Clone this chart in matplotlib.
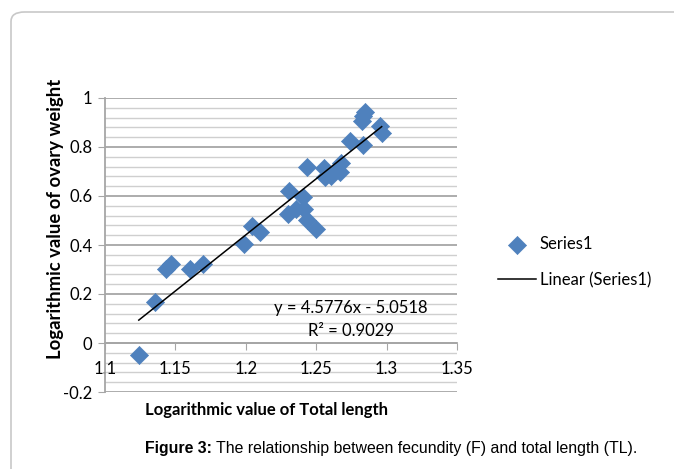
import matplotlib
matplotlib.use("Agg")
import matplotlib.pyplot as plt
from matplotlib.patches import FancyBboxPatch
from matplotlib.ticker import FixedLocator, FixedFormatter
import numpy as np

# data
log_tl = [1.124, 1.1358, 1.1434, 1.1466, 1.1607, 1.1694, 1.1986, 1.2045, 1.2104,
          1.2306, 1.2301, 1.2353, 1.2412, 1.2405, 1.2436, 1.2502, 1.2436, 1.2555,
          1.256, 1.2602, 1.2637, 1.2666, 1.2673, 1.2739, 1.2834, 1.2827, 1.285,
          1.2835, 1.2953, 1.2965]
log_ow = [-0.047, 0.166, 0.301, 0.324, 0.301, 0.324, 0.403, 0.476, 0.453,
          0.622, 0.527, 0.547, 0.547, 0.595, 0.500, 0.466, 0.719, 0.716,
          0.676, 0.682, 0.703, 0.696, 0.736, 0.824, 0.808, 0.908, 0.943,
          0.926, 0.885, 0.858]
slope, intercept = 4.5776, -5.0518
r2 = 0.9029
x_ticks = [1.1, 1.15, 1.2, 1.25, 1.3, 1.35]
x_ticklabels = ["1.1", "1.15", "1.2", "1.25", "1.3", "1.35"]
y_ticks = [-0.2, 0, 0.2, 0.4, 0.6, 0.8, 1.0]
y_ticklabels = ["-0.2", "0", "0.2", "0.4", "0.6", "0.8", "1"]

W, H = 674, 469
fig = plt.figure(figsize=(W/100, H/100), dpi=100)
fig.patch.set_facecolor("white")

# outer rounded frame
frame = FancyBboxPatch((11/W, -0.2), 1.2, (H-12)/H + 0.2,
                       boxstyle="round,pad=0,rounding_size=0.02",
                       transform=fig.transFigure, fill=False,
                       edgecolor="#c8c8c8", linewidth=1.2, clip_on=False)
fig.patches.append(frame)

ax = fig.add_axes([105/W, (H-392)/H, 352/W, (392-98)/H])
ax.set_xlim(1.1, 1.35)
ax.set_ylim(-0.2, 1.0)

# grid
for v in np.arange(-0.2, 1.0001, 0.04):
    major = abs(round(v / 0.2) * 0.2 - v) < 1e-6
    ax.axhline(v, color="#a6a6a6" if major else "#cfcfcf",
               lw=1.3 if major else 1.0, zorder=0)

for s in ["top", "right"]:
    ax.spines[s].set_visible(False)
ax.spines["bottom"].set_position(("data", 0))
ax.spines["bottom"].set_color("#a6a6a6")
ax.spines["left"].set_color("#a6a6a6")
ax.spines["bottom"].set_linewidth(1.3)
ax.spines["left"].set_linewidth(1.3)

ax.xaxis.set_major_locator(FixedLocator(x_ticks))
ax.xaxis.set_major_formatter(FixedFormatter(x_ticklabels))
ax.yaxis.set_major_locator(FixedLocator(y_ticks))
ax.yaxis.set_major_formatter(FixedFormatter(y_ticklabels))
ax.tick_params(axis="x", direction="out", length=5, color="#a6a6a6", pad=8,
               labelsize=12, labelcolor="black")
ax.tick_params(axis="y", direction="out", length=5, color="#a6a6a6", pad=4,
               labelsize=12, labelcolor="black")
for lab in ax.get_xticklabels() + ax.get_yticklabels():
    lab.set_fontfamily("Lato")

sc = ax.scatter(log_tl, log_ow, marker="D", s=85, color="#4f81bd",
                edgecolors="#4f81bd", linewidths=0.5, zorder=3, label="Series1")
xl = np.array([min(log_tl), max(log_tl)])
ln, = ax.plot(xl, slope * xl + intercept, color="black", lw=1.1, zorder=4,
              label="Linear (Series1)")

ax.text(1.2747, 0.143, "y = %.4fx - %.4f" % (slope, -intercept), ha="center",
        va="center", fontsize=12, fontfamily="Lato")
ax.text(1.2747, 0.049, "R² = %.4f" % r2, ha="center", va="center",
        fontsize=12, fontfamily="Lato")

ax.set_xlabel("Logarithmic value of Total length", fontsize=12,
              fontweight="bold", fontfamily="Lato")
ax.xaxis.set_label_coords(0.46, -0.035)
ax.set_ylabel("Logarithmic value of ovary weight", fontsize=13.3,
              fontweight="bold", fontfamily="Lato")
ax.yaxis.set_label_coords(-0.117, 0.588)

leg = fig.legend(handles=[sc, ln], labels=["Series1", "Linear (Series1)"],
                 loc="upper left", bbox_to_anchor=(483/W, 1 - 221/H),
                 frameon=False, handlelength=2.3,
                 labelspacing=1.2, handletextpad=0.2, scatterpoints=1,
                 prop={"family": "Lato", "size": 12})

t1 = fig.text(145/W, 1 - 448/H, "Figure 3:", fontsize=11.4, fontweight="bold",
              fontfamily="Liberation Sans", va="center", ha="left")
fig.canvas.draw()
bb = t1.get_window_extent(renderer=fig.canvas.get_renderer())
fig.text((bb.x1 + 4) / W, 1 - 448/H,
         "The relationship between fecundity (F) and total length (TL).",
         fontsize=11.4, fontfamily="Liberation Sans", va="center", ha="left")

fig.savefig("out.png", dpi=100)
